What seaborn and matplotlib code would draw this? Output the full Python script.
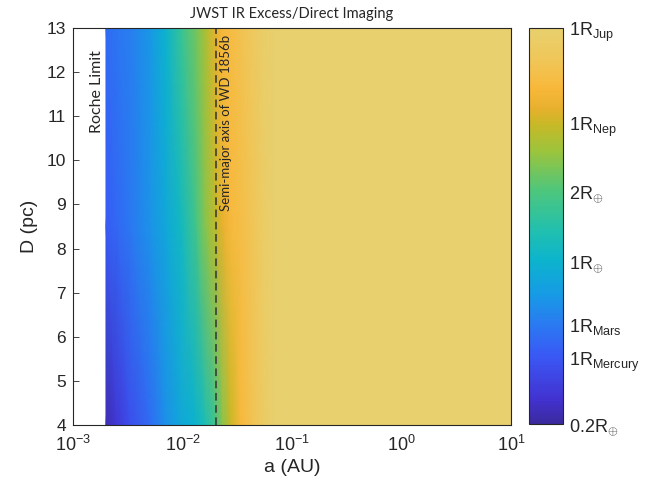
import numpy as np
import matplotlib
matplotlib.use("Agg")
import matplotlib.pyplot as plt
import seaborn as sns
from matplotlib.colors import LinearSegmentedColormap, LogNorm
from matplotlib.ticker import LogLocator, NullFormatter

# semi-major axis samples (AU) and distance samples (pc)
a_au = [0.002, 0.0025, 0.0033, 0.005, 0.007, 0.0096, 0.0132, 0.0163, 0.0204,
        0.0233, 0.0276, 0.034, 0.042, 0.054, 0.07, 10.0]
d_pc = [4.0, 8.5, 13.0]

# smallest detectable radius (Earth radii), one list per distance
r_d4 = [0.22, 0.27, 0.35, 0.47, 0.65, 0.85, 1.0, 1.3, 1.9, 2.7, 3.9, 5.6, 6.8, 8.5, 10, 10]
r_d85 = [0.40, 0.45, 0.52, 0.66, 0.85, 1.12, 1.8, 2.7, 3.8, 4.6, 5.6, 6.2, 7.0, 8.6, 10, 10]
r_d13 = [0.47, 0.51, 0.55, 0.70, 1.0, 1.6, 2.4, 3.3, 4.6, 5.6, 6.0, 6.8, 7.6, 9.0, 10, 10]

roche_au = 0.002
wd1856b_au = 0.0204

cbar_ticks = [0.2, 0.383, 0.532, 1, 2, 3.88, 10]
cbar_labels = [r"0.2R$_{\oplus}$", r"1R$_{\mathrm{Mercury}}$", r"1R$_{\mathrm{Mars}}$",
               r"1R$_{\oplus}$", r"2R$_{\oplus}$", r"1R$_{\mathrm{Nep}}$", r"1R$_{\mathrm{Jup}}$"]

sns.set_style("ticks")
plt.rcParams.update({
    "font.family": ["Liberation Sans", "DejaVu Sans"],
    "mathtext.fontset": "custom",
    "mathtext.rm": "Liberation Sans",
    "mathtext.it": "Liberation Sans:italic",
    "mathtext.bf": "Liberation Sans:bold",
    "xtick.direction": "in",
    "ytick.direction": "in",
    "xtick.top": True,
    "ytick.right": True,
    "axes.edgecolor": "#262626",
    "axes.linewidth": 0.8,
})

# parula-like map with the muted yellow top seen in the figure
cmap = LinearSegmentedColormap.from_list("parula_ish", [
    (0.00, "#3b2a9e"), (0.06, "#4232d0"), (0.17, "#3a58f5"), (0.25, "#2a7af2"),
    (0.33, "#169ce4"), (0.415, "#0cb4cc"), (0.49, "#22c0ae"), (0.59, "#4ec67c"),
    (0.69, "#9cc43c"), (0.76, "#c9b826"), (0.80, "#e8b02e"), (0.85, "#f8b83a"),
    (0.92, "#f0c658"), (1.00, "#e8d06e"),
])

fig = plt.figure(figsize=(6.67, 4.94), dpi=100)
ax = fig.add_axes([73 / 667, 1 - 425 / 494, (511 - 73) / 667, (425 - 28) / 494])
cax = fig.add_axes([529 / 667, 1 - 424 / 494, 34 / 667, (424 - 28) / 494])

A, D = np.meshgrid(a_au, d_pc)
R = np.array([r_d4, r_d85, r_d13])
norm = LogNorm(vmin=0.2, vmax=10)
mesh = ax.pcolormesh(A, D, R, cmap=cmap, norm=norm, shading="gouraud")

ax.set_xscale("log")
ax.set_xlim(1e-3, 1e1)
ax.set_ylim(4, 13)
ax.set_yticks(range(4, 14))
ax.tick_params(which="major", length=4, width=0.6, colors="#262626")
ax.tick_params(axis="x", labelsize=13, pad=7)
ax.tick_params(axis="y", labelsize=12.5, pad=5)
ax.tick_params(which="minor", length=2.5, width=0.6)
ax.xaxis.set_minor_locator(LogLocator(base=10, subs=np.arange(2, 10)))
ax.xaxis.set_minor_formatter(NullFormatter())

ax.axvline(wd1856b_au, color="#333333", ls=(0, (5, 3)), lw=1.1)
ax.text(roche_au * 0.95, 12.5, "Roche Limit", rotation=90, ha="right", va="top",
        family=["Lato", "DejaVu Sans"], fontsize=11.5)
ax.text(wd1856b_au * 1.07, 12.85, "Semi-major axis of WD 1856b", rotation=90,
        ha="left", va="top", family=["Lato", "DejaVu Sans"], fontsize=9.5)

ax.set_xlabel("a (AU)", fontsize=14, labelpad=3)
ax.set_ylabel("D (pc)", fontsize=14, labelpad=6)
ax.set_title("JWST IR Excess/Direct Imaging", family=["Lato", "DejaVu Sans"],
             fontsize=10.5, pad=7)

cbar = fig.colorbar(mesh, cax=cax)
cbar.set_ticks(cbar_ticks, labels=cbar_labels)
cbar.ax.yaxis.set_minor_locator(LogLocator(base=10, subs=np.arange(2, 10)))
cbar.ax.yaxis.set_minor_formatter(NullFormatter())
cbar.ax.tick_params(which="major", direction="in", length=4, width=0.6, labelsize=13, pad=4)
cbar.ax.tick_params(which="minor", direction="in", length=2.5, width=0.6)
cbar.outline.set_edgecolor("#262626")
cbar.outline.set_linewidth(0.8)

fig.savefig("out.png", dpi=100)
